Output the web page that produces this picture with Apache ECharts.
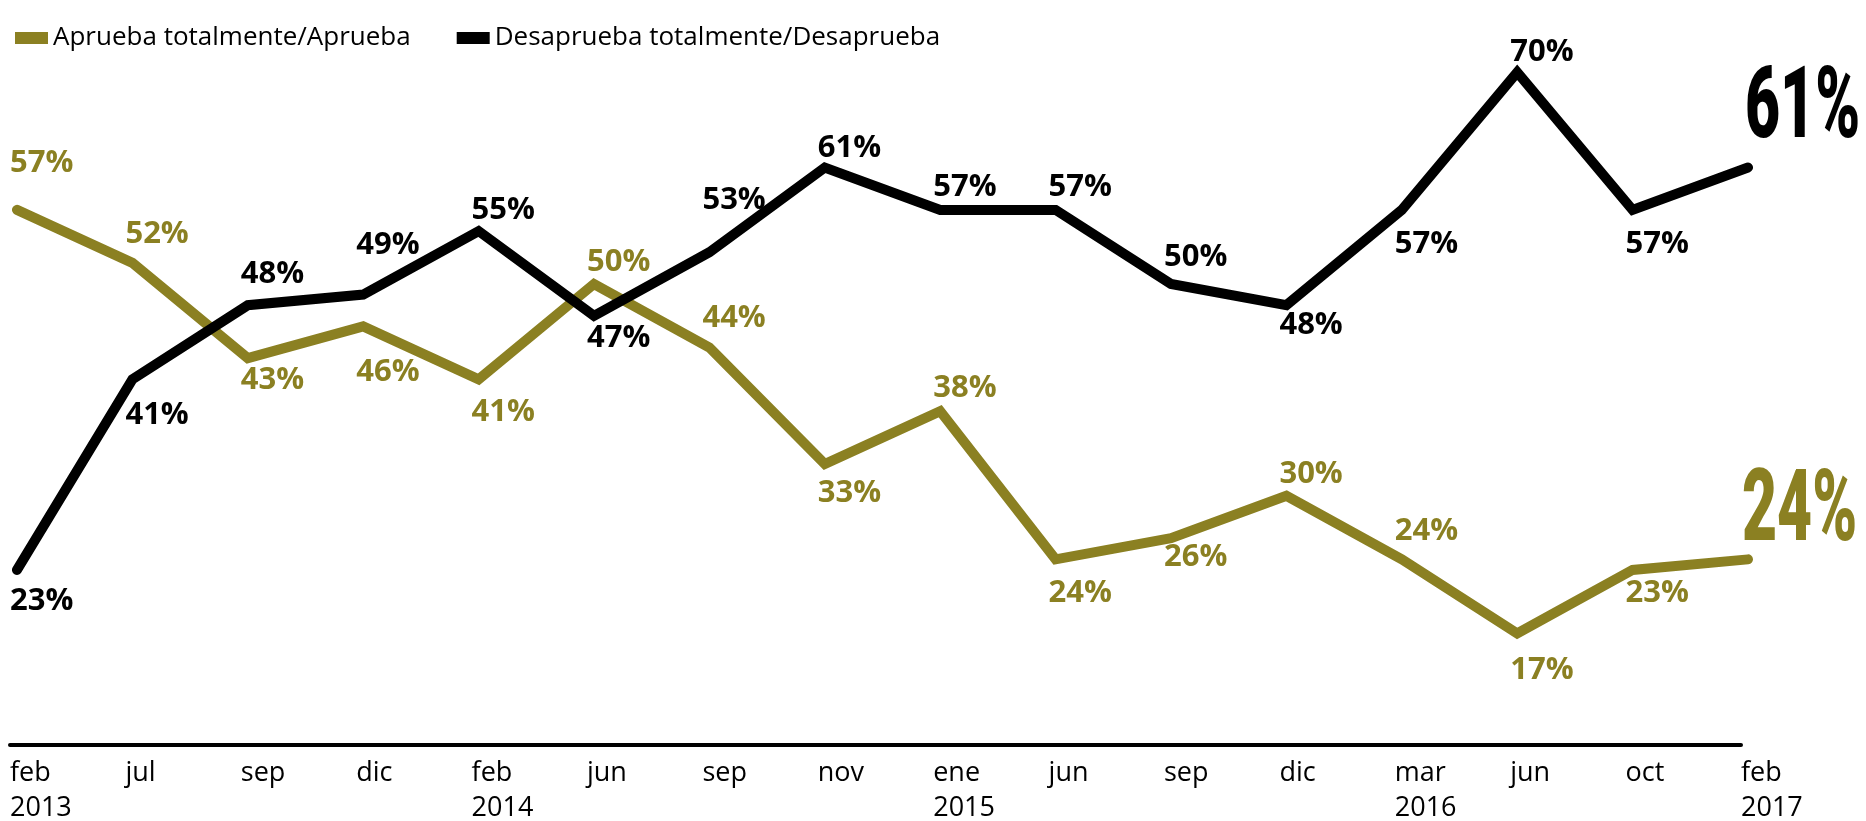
<!DOCTYPE html>
<html><head><meta charset="utf-8">
<script src="https://cdn.jsdelivr.net/npm/echarts@6/dist/echarts.min.js"></script>
<style>html,body{margin:0;padding:0;background:#fff}#c{width:1866px;height:821px}</style>
</head><body><div id="c"></div>
<script>
const categories = ['feb\n2013','jul','sep','dic','feb\n2014','jun','sep','nov','ene\n2015','jun','sep','dic','mar\n2016','jun','oct','feb\n2017'];
const seriesNames = ['Aprueba totalmente/Aprueba','Desaprueba totalmente/Desaprueba'];
const aprueba = [57,52,43,46,41,50,44,33,38,24,26,30,24,17,23,24];
const desaprueba = [23,41,48,49,55,47,53,61,57,57,50,48,57,70,57,61];

// layout only: vertical label offsets (px) per point
const apruebaLabelDy = [-47,-29,22,46,33,-22,-29,29,-23,34,19,-22,-28,37,23,0];
const desapruebaLabelDy = [31,36,-31,-49,-21,22,-52,-19,-23,-23,-27,20,34,-20,34,0];

const OLIVE = '#8b8022';
const BLACK = '#000000';

function mkSeries(name, vals, dys, color) {
  return {
    name, type: 'line', xAxisIndex: 0, yAxisIndex: 0,
    data: vals.map((v, i) => ({ value: v, label: { show: i < vals.length - 1, offset: [-7, dys[i]] } })),
    symbol: 'circle', symbolSize: 1, showSymbol: true,
    itemStyle: { color },
    lineStyle: { color, width: 10, cap: 'round', join: 'miter' },
    label: { show: true, position: 'inside', align: 'left', verticalAlign: 'middle',
      formatter: '{c}%', color, fontFamily: 'Open Sans', fontWeight: 'bold', fontSize: 31 },
    emphasis: { disabled: true },
    animation: false, z: 2
  };
}

const chart = echarts.init(document.getElementById('c'), null, { renderer: 'canvas' });
const option = {
  animation: false,
  backgroundColor: '#ffffff',
  color: [OLIVE, BLACK],
  legend: {
    left: 10, top: 20, icon: 'rect', itemWidth: 33, itemHeight: 12, itemGap: 46,
    textStyle: { fontFamily: 'Open Sans', fontSize: 26, color: '#000' },
    data: seriesNames
  },
  grid: [
    { left: 17, right: 118, top: 19.25, bottom: 76.3, outerBoundsMode: 'none', containLabel: false },
    { left: 10, right: 125, top: 19.25, bottom: 76.3, outerBoundsMode: 'none', containLabel: false }
  ],
  xAxis: [
    { type: 'category', gridIndex: 0, data: categories, boundaryGap: false, show: false },
    { type: 'category', gridIndex: 1, data: categories, boundaryGap: false,
      axisLine: { show: true, onZero: false, lineStyle: { color: '#000', width: 4 } },
      axisTick: { show: false }, splitLine: { show: false },
      axisLabel: { interval: 0, showMinLabel: true, showMaxLabel: true, align: 'left', verticalAlign: 'top',
        margin: 11, fontFamily: 'Open Sans', fontSize: 27, lineHeight: 35, color: '#000' } }
  ],
  yAxis: [
    { type: 'value', gridIndex: 0, min: 6.5, max: 75, show: false },
    { type: 'value', gridIndex: 1, min: 0, max: 1, show: false }
  ],
  series: [
    mkSeries(seriesNames[0], aprueba, apruebaLabelDy, OLIVE),
    mkSeries(seriesNames[1], desaprueba, desapruebaLabelDy, BLACK)
  ]
};
chart.setOption(option);

const last = categories.length - 1;
const pA = chart.convertToPixel({ seriesIndex: 0 }, [last, aprueba[last]]);
const pB = chart.convertToPixel({ seriesIndex: 1 }, [last, desaprueba[last]]);
const bigScale = 0.6;
const bigStyle = { fontFamily: 'Roboto', fontWeight: 900, fontSize: 101, align: 'left', verticalAlign: 'bottom',
  textAlign: 'left', textVerticalAlign: 'bottom' };
chart.setOption({
  graphic: [
    { type: 'text', x: pB[0] - 3, y: pB[1] - 5, scaleX: bigScale, z: 10,
      style: Object.assign({ text: desaprueba[last] + '%', fill: BLACK }, bigStyle) },
    { type: 'text', x: pA[0] - 6, y: pA[1] + 6, scaleX: bigScale, z: 10,
      style: Object.assign({ text: aprueba[last] + '%', fill: OLIVE }, bigStyle) }
  ]
});
</script></body></html>
